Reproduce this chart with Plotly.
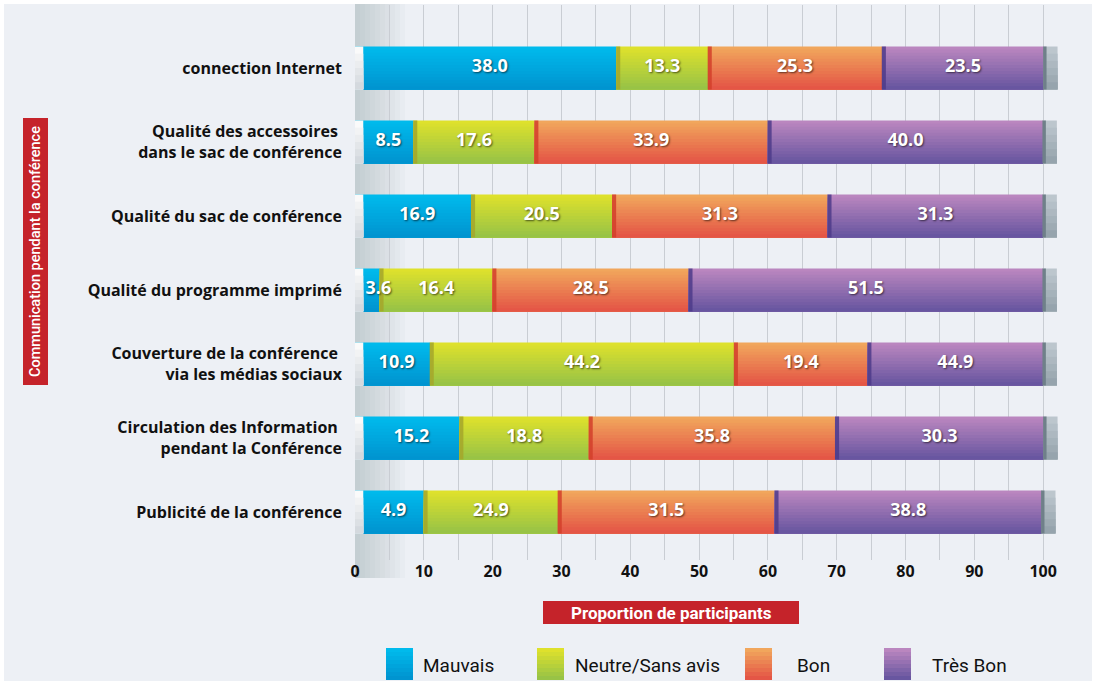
import plotly.graph_objects as go
import numpy as np

# ---------------- data ----------------
categories = [
    "connection Internet",
    "Qualité des accessoires <br>dans le sac de conférence",
    "Qualité du sac de conférence",
    "Qualité du programme imprimé",
    "Couverture de la conférence <br>via les médias sociaux",
    "Circulation des Information <br>pendant la Conférence",
    "Publicité de la conférence",
]
series_names = ["Mauvais", "Neutre/Sans avis", "Bon", "Très Bon"]

# segment lengths as drawn
mauvais = [38.0, 8.5, 16.9, 3.6, 10.9, 15.2, 10.0]
neutre = [13.3, 17.6, 20.5, 16.4, 44.2, 18.8, 19.5]
bon = [25.3, 33.9, 31.3, 28.5, 19.4, 35.8, 31.5]
tres_bon = [23.5, 40.0, 31.3, 51.5, 25.5, 30.3, 38.8]

# values as printed on the bars
mauvais_labels = ["38.0", "8.5", "16.9", "3.6", "10.9", "15.2", "4.9"]
neutre_labels = ["13.3", "17.6", "20.5", "16.4", "44.2", "18.8", "24.9"]
bon_labels = ["25.3", "33.9", "31.3", "28.5", "19.4", "35.8", "31.5"]
tres_bon_labels = ["23.5", "40.0", "31.3", "51.5", "44.9", "30.3", "38.8"]

x_ticks = [0, 10, 20, 30, 40, 50, 60, 70, 80, 90, 100]

# ---------------- styling ----------------
W, H = 1096, 685
L, R, T, B = 355, 1061, 5, 560
BAR_W = 0.58
N_STRIPS = 14
CAP_L = 1.2
LABEL_HALF = 2.2  # approx. half width of a value label, in axis units

grad = {
    "Mauvais": ((0, 186, 236), (0, 148, 208)),
    "Neutre/Sans avis": ((222, 225, 44), (152, 195, 70)),
    "Bon": ((241, 166, 92), (228, 86, 70)),
    "Très Bon": ((186, 134, 191), (104, 86, 160)),
}
edge_col = {
    "Neutre/Sans avis": "#a4a62a",
    "Bon": "#d2402a",
    "Très Bon": "#4d3b8a",
}


def lerp(c1, c2, t):
    return "rgb(%d,%d,%d)" % tuple(round(a + (b - a) * t) for a, b in zip(c1, c2))


def px(x):
    return (x - L) / (R - L)


def py(y):
    return (B - y) / (B - T)


fig = go.Figure()


def gradient_bar(x, base, c_top, c_bot, n=N_STRIPS):
    # each strip runs from its own top down to the bar bottom, so later
    # strips cover the earlier ones and no seams remain
    for k in range(n):
        t = k / (n - 1)
        fig.add_trace(go.Bar(
            y=categories, x=x, base=base, orientation="h",
            width=BAR_W - k * BAR_W / n, offset=-BAR_W / 2 + k * BAR_W / n,
            marker=dict(color=lerp(c_top, c_bot, t), line=dict(width=0)),
            showlegend=False, hoverinfo="skip",
        ))


series_vals = [mauvais, neutre, bon, tres_bon]
series_labels = [mauvais_labels, neutre_labels, bon_labels, tres_bon_labels]

base = np.zeros(len(categories))
centers = []
for i, (name, vals) in enumerate(zip(series_names, series_vals)):
    v = np.array(vals)
    gradient_bar(v, base.copy(), *grad[name])
    if name in edge_col:
        fig.add_trace(go.Bar(
            y=categories, x=[0.6] * len(categories), base=base - 0.05,
            orientation="h", width=BAR_W, offset=-BAR_W / 2,
            marker=dict(color=edge_col[name], line=dict(width=0), opacity=0.85),
            showlegend=False, hoverinfo="skip",
        ))
    if i == 0:
        # centre on the visible part (right of the left cap), never under the cap
        centers.append(np.maximum((CAP_L + base + v) / 2, CAP_L + LABEL_HALF))
    else:
        centers.append(base + v / 2)
    base = base + v

# left cap
gradient_bar([CAP_L] * len(categories), np.zeros(len(categories)),
             (250, 250, 250), (212, 217, 222), n=6)
# right cap
gradient_bar([2.0] * len(categories), base.copy(),
             (188, 198, 205), (150, 164, 173), n=6)
fig.add_trace(go.Bar(
    y=categories, x=[0.5] * len(categories), base=base - 0.1,
    orientation="h", width=BAR_W, offset=-BAR_W / 2,
    marker=dict(color="#6f8089", line=dict(width=0)),
    showlegend=False, hoverinfo="skip",
))

# value labels
for c, labs in zip(centers, series_labels):
    fig.add_trace(go.Scatter(
        x=c, y=categories, mode="text", text=labs,
        textfont=dict(color="white", size=18, family="Open Sans", weight=700,
                      shadow="1px 1px 2px rgba(0,0,0,0.6)"),
        showlegend=False, hoverinfo="skip", cliponaxis=False,
    ))

shapes = []
# background panel
shapes.append(dict(type="rect", xref="paper", yref="paper", layer="below",
                   x0=px(4), x1=px(1092), y0=py(681), y1=py(4),
                   fillcolor="#edf0f5", line=dict(width=0)))
# soft shadow strip at the left of the plot
for w in range(5, 55, 5):
    shapes.append(dict(type="rect", xref="paper", yref="paper", layer="below",
                       x0=px(355), x1=px(355 + w), y0=py(578), y1=py(4),
                       fillcolor="rgba(120,128,140,0.035)", line=dict(width=0)))
# y-title red box
shapes.append(dict(type="rect", xref="paper", yref="paper", layer="above",
                   x0=px(23), x1=px(48), y0=py(385), y1=py(118),
                   fillcolor="#c5232a", line=dict(width=0)))
# x-title red box
shapes.append(dict(type="rect", xref="paper", yref="paper", layer="above",
                   x0=px(543), x1=px(799), y0=py(624), y1=py(601),
                   fillcolor="#c5232a", line=dict(width=0)))

annotations = [
    dict(text="Communication pendant la conférence", xref="paper", yref="paper",
         x=px(35.5), y=py(251.5), xanchor="center", yanchor="middle",
         textangle=-90, showarrow=False,
         font=dict(family="Roboto", size=14.5, color="white", weight=500)),
    dict(text="Proportion de participants", xref="paper", yref="paper",
         x=px(671), y=py(612.5), xanchor="center", yanchor="middle",
         showarrow=False,
         font=dict(family="Roboto", size=17, color="white", weight=700)),
]

# manual legend
legend_sw_x = [386, 537, 745, 884]
legend_tx_x = [421, 573, 795, 930]
for name, sx, tx in zip(series_names, legend_sw_x, legend_tx_x):
    ctop, cbot = grad[name]
    n = 8
    y0, y1 = 648, 680
    for k in range(n):
        ya = y0 + (y1 - y0) * k / n
        shapes.append(dict(type="rect", xref="paper", yref="paper", layer="above",
                           x0=px(sx), x1=px(sx + 27), y0=py(y1), y1=py(ya),
                           fillcolor=lerp(ctop, cbot, k / (n - 1)), line=dict(width=0)))
    annotations.append(dict(text=name, xref="paper", yref="paper",
                            x=px(tx), y=py(665), xanchor="left", yanchor="middle",
                            showarrow=False,
                            font=dict(family="Roboto", size=19, color="#111111")))

fig.update_layout(
    width=W, height=H,
    margin=dict(l=L, r=W - R, t=T, b=H - B, autoexpand=False),
    barmode="overlay",
    paper_bgcolor="white",
    plot_bgcolor="rgba(0,0,0,0)",
    shapes=shapes,
    annotations=annotations,
    showlegend=False,
    xaxis=dict(
        range=[0, 102.6], tickvals=x_ticks, ticktext=[str(v) for v in x_ticks],
        showgrid=True, gridcolor="#c9cdd3", gridwidth=1, zeroline=False,
        minor=dict(dtick=5, tick0=0, showgrid=True, gridcolor="#c9cdd3", gridwidth=1),
        tickfont=dict(family="Open Sans", size=16, color="#111111", weight=700),
        ticks="", showline=False, fixedrange=True, automargin=False,
    ),
    yaxis=dict(
        type="category", categoryorder="array", categoryarray=categories,
        range=[6.649, -0.851], showgrid=False, zeroline=False, ticks="",
        tickfont=dict(family="Open Sans", size=16, color="#111111", weight=700),
        ticklabelstandoff=12, fixedrange=True, automargin=False,
    ),
)

fig.write_html("out.html", config={"displayModeBar": False},
               post_script="document.body.style.margin='0px';")
